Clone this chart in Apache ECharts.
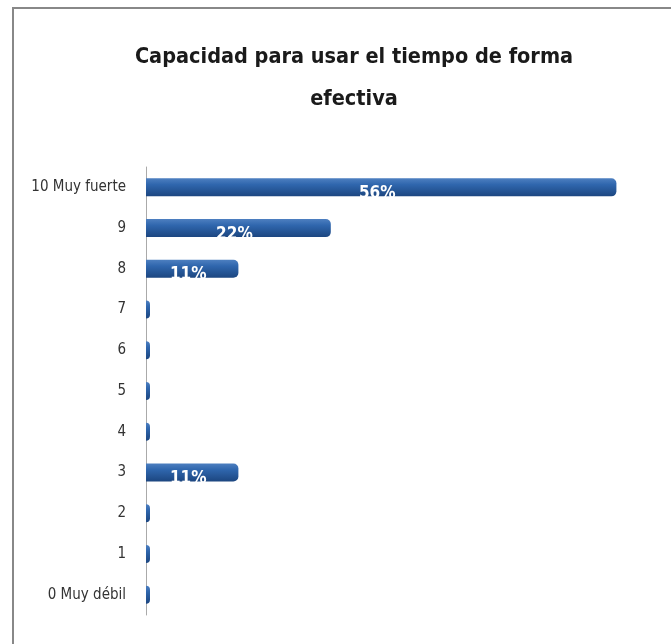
<!DOCTYPE html>
<html><head><meta charset="utf-8">
<script src="https://cdn.jsdelivr.net/npm/echarts@6/dist/echarts.min.js"></script>
<style>html,body{margin:0;padding:0;background:#fff}#c{width:671px;height:644px}</style>
</head><body><div id="c"></div>
<script>
var titleText = 'Capacidad para usar el tiempo de forma\nefectiva';
var categories = ['0 Muy débil','1','2','3','4','5','6','7','8','9','10 Muy fuerte'];
var values = [0,0,0,11,0,0,0,0,11,22,56];
var chart = echarts.init(document.getElementById('c'));
chart.setOption({
  backgroundColor:'#fff',
  animation:false,
  title:{text:titleText,left:349,textAlign:'center',top:31,
    textStyle:{fontFamily:'DejaVu Sans Condensed',fontSize:21.5,fontWeight:'bold',color:'#1a1a1a',lineHeight:42}},
  graphic:[{type:'polyline',shape:{points:[[13,644],[13,8],[671,8]]},style:{stroke:'#888',lineWidth:2,fill:null}}],
  grid:{left:146,right:21,top:167,bottom:29,containLabel:false},
  xAxis:{type:'value',min:0,max:60,show:false},
  yAxis:{type:'category',data:categories,
    axisLine:{lineStyle:{color:'#aaa',width:1}},axisTick:{show:false},
    axisLabel:{fontFamily:'DejaVu Sans Condensed',fontSize:15,color:'#333',margin:20}},
  series:[{type:'bar',data:values,barWidth:18,barMinHeight:4,
    itemStyle:{borderRadius:[0,5,5,0],
      color:new echarts.graphic.LinearGradient(0,0,0,1,[{offset:0,color:'#4d7fc0'},{offset:0.35,color:'#2f66ad'},{offset:1,color:'#1c4680'}])},
    label:{show:true,position:'inside',offset:[-4,6],color:'#fff',fontFamily:'DejaVu Sans Condensed',fontSize:17,fontWeight:'bold',
      formatter:function(p){return p.value>0?p.value+'%':'';}}
  }]
});
</script></body></html>
